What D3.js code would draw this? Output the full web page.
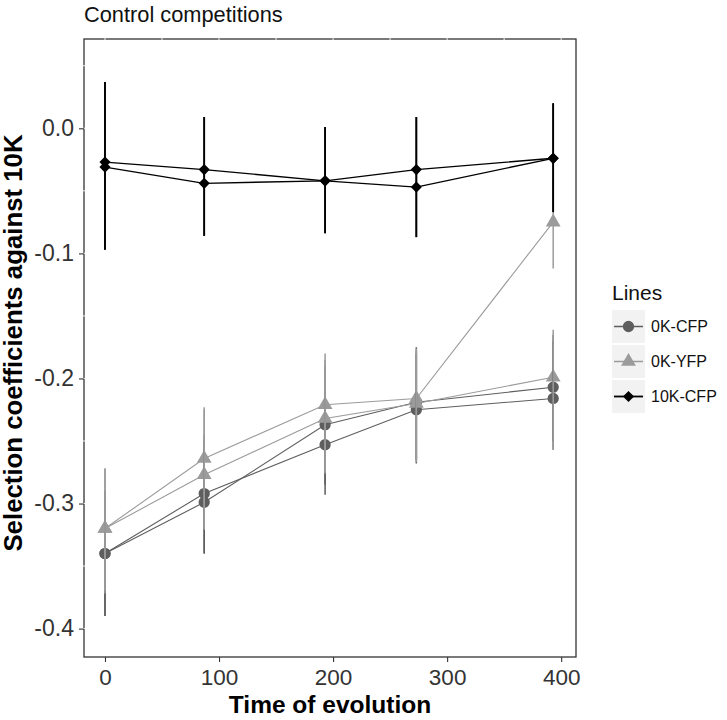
<!DOCTYPE html>
<html>
<head>
<meta charset="utf-8">
<script src="https://cdn.jsdelivr.net/npm/d3@7"></script>
<style>
  body { margin: 0; background: #fff; }
  svg { display: block; font-family: "Liberation Sans", Arial, sans-serif; }
</style>
</head>
<body>
<svg id="chart" width="727" height="720"></svg>
<script>
// ---------------- data ----------------
const times = [0, 87, 193, 273, 393];
const groups = ["0K-CFP", "0K-YFP", "10K-CFP"];
const xTicks = [0, 100, 200, 300, 400];
const yTicks = [0.0, -0.1, -0.2, -0.3, -0.4];

// two replicate lines per group
const cfpA   = [-0.340, -0.292, -0.253, -0.225, -0.216];
const cfpB   = [-0.340, -0.299, -0.237, -0.219, -0.207];
const yfpA   = [-0.320, -0.264, -0.221, -0.216, -0.075];
const yfpB   = [-0.320, -0.277, -0.232, -0.220, -0.199];
const k10A   = [-0.027, -0.033, -0.042, -0.033, -0.024];
const k10B   = [-0.031, -0.044, -0.042, -0.047, -0.024];

// error bar limits per line
const cfpA_lo = [-0.390, -0.340, -0.293, -0.268, -0.257];
const cfpA_hi = [-0.290, -0.245, -0.210, -0.180, -0.170];
const cfpB_lo = [-0.390, -0.340, -0.285, -0.265, -0.250];
const cfpB_hi = [-0.290, -0.250, -0.190, -0.175, -0.165];
const yfpA_lo = [-0.372, -0.321, -0.276, -0.267, -0.112];
const yfpA_hi = [-0.272, -0.223, -0.180, -0.176, -0.040];
const yfpB_lo = [-0.370, -0.320, -0.275, -0.265, -0.257];
const yfpB_hi = [-0.272, -0.225, -0.185, -0.178, -0.161];
const k10_lo  = [-0.097, -0.086, -0.084, -0.087, -0.067];
const k10_hi  = [ 0.037,  0.009,  0.001,  0.009,  0.020];

const seriesList = [
  { group: "0K-CFP",  vals: cfpA, lo: cfpA_lo, hi: cfpA_hi },
  { group: "0K-CFP",  vals: cfpB, lo: cfpB_lo, hi: cfpB_hi },
  { group: "0K-YFP",  vals: yfpA, lo: yfpA_lo, hi: yfpA_hi },
  { group: "0K-YFP",  vals: yfpB, lo: yfpB_lo, hi: yfpB_hi },
  { group: "10K-CFP", vals: k10A, lo: k10_lo,  hi: k10_hi },
  { group: "10K-CFP", vals: k10B, lo: k10_lo,  hi: k10_hi }
];

// ---------------- styles ----------------
const colors = { "0K-CFP": "#5e5e5e", "0K-YFP": "#9b9b9b", "10K-CFP": "#000000" };
const lineW  = { "0K-CFP": 1.1, "0K-YFP": 1.1, "10K-CFP": 1.4 };
const barW   = { "0K-CFP": 1.5, "0K-YFP": 1.5, "10K-CFP": 1.7 };

function markerPath(group) {
  if (group === "0K-CFP") return d3.symbol(d3.symbolCircle, 100)();
  if (group === "0K-YFP") return d3.symbol(d3.symbolTriangle, 95)();
  return d3.symbol(d3.symbolSquare, 62)();
}
function markerRot(group) { return group === "10K-CFP" ? 45 : 0; }

// ---------------- layout ----------------
const svg = d3.select("#chart");
const P = { left: 84, right: 576, top: 39, bottom: 657 };

const x = d3.scaleLinear().domain([-18.4, 413]).range([P.left, P.right]);
const y = d3.scaleLinear().domain([-0.4227, 0.0714]).range([P.bottom, P.top]);

// panel background
svg.append("rect").attr("x", P.left).attr("y", P.top)
  .attr("width", P.right - P.left).attr("height", P.bottom - P.top)
  .attr("fill", "#fff");

// lines
const lineGen = d3.line().x((d, i) => x(times[i])).y(d => y(d));
const gLines = svg.append("g");
seriesList.forEach(s => {
  gLines.append("path").attr("d", lineGen(s.vals))
    .attr("fill", "none").attr("stroke", colors[s.group])
    .attr("stroke-width", lineW[s.group]);
});

// points
const gPts = svg.append("g");
seriesList.forEach(s => {
  gPts.selectAll(null).data(s.vals).enter().append("path")
    .attr("d", markerPath(s.group))
    .attr("transform", (d, i) => `translate(${x(times[i])},${y(d)}) rotate(${markerRot(s.group)})`)
    .attr("fill", colors[s.group]);
});

// error bars
const gErr = svg.append("g");
seriesList.forEach(s => {
  gErr.selectAll(null).data(s.vals).enter().append("line")
    .attr("x1", (d, i) => x(times[i])).attr("x2", (d, i) => x(times[i]))
    .attr("y1", (d, i) => y(s.hi[i])).attr("y2", (d, i) => y(s.lo[i]))
    .attr("stroke", colors[s.group]).attr("stroke-width", barW[s.group]);
});

// panel border
svg.append("rect").attr("x", P.left).attr("y", P.top)
  .attr("width", P.right - P.left).attr("height", P.bottom - P.top)
  .attr("fill", "none").attr("stroke", "#333").attr("stroke-width", 1.3);

// small white gaps on top & left border (grid positions)
const gGap = svg.append("g");
d3.range(0, 401, 50).forEach(v => {
  gGap.append("line").attr("x1", x(v)).attr("x2", x(v))
    .attr("y1", P.top - 1.5).attr("y2", P.top + 1.5)
    .attr("stroke", "#fff").attr("stroke-width", 0.9);
});
d3.range(-0.4, 0.051, 0.05).forEach(v => {
  gGap.append("line").attr("x1", P.left - 1.5).attr("x2", P.left + 1.5)
    .attr("y1", y(v)).attr("y2", y(v))
    .attr("stroke", "#fff").attr("stroke-width", 0.9);
});

// axes
const xAxis = d3.axisBottom(x).tickValues(xTicks).tickSize(5).tickPadding(7)
  .tickFormat(d3.format("d"));
const gx = svg.append("g").attr("transform", `translate(0,${P.bottom})`).call(xAxis);
gx.select(".domain").remove();
gx.selectAll(".tick line").attr("stroke", "#333").attr("stroke-width", 1.1);
gx.selectAll(".tick text").attr("fill", "#333").style("font-size", "22.5px")
  .style("font-family", "'Liberation Sans', Arial, sans-serif");

const yAxis = d3.axisLeft(y).tickValues(yTicks).tickSize(5).tickPadding(5)
  .tickFormat(d3.format(".1f"));
const gy = svg.append("g").attr("transform", `translate(${P.left},0)`).call(yAxis);
gy.select(".domain").remove();
gy.selectAll(".tick line").attr("stroke", "#333").attr("stroke-width", 1.1);
gy.selectAll(".tick text").attr("fill", "#333").style("font-size", "23px")
  .style("font-family", "'Liberation Sans', Arial, sans-serif")
  .text(d => d3.format(".1f")(d).replace("−", "-"));

// titles
svg.append("text").attr("x", 84).attr("y", 22)
  .style("font-size", "21.8px").attr("fill", "#111")
  .text("Control competitions");

svg.append("text").attr("x", (P.left + P.right) / 2).attr("y", 713)
  .attr("text-anchor", "middle").style("font-size", "24.5px").style("font-weight", "bold")
  .text("Time of evolution");

svg.append("text")
  .attr("transform", `translate(22,${(P.top + P.bottom) / 2 - 5}) rotate(-90)`)
  .attr("text-anchor", "middle").style("font-size", "25.8px").style("font-weight", "bold")
  .text("Selection coefficients against 10K");

// legend
const lg = svg.append("g").attr("transform", "translate(612,0)");
lg.append("text").attr("x", 0).attr("y", 300).style("font-size", "21px").attr("fill", "#111")
  .text("Lines");
groups.forEach((g, i) => {
  const y0 = 310 + i * 35;
  lg.append("rect").attr("x", 0).attr("y", y0).attr("width", 33).attr("height", 33)
    .attr("fill", "#f2f2f2");
  lg.append("line").attr("x1", 2).attr("x2", 31).attr("y1", y0 + 16.5).attr("y2", y0 + 16.5)
    .attr("stroke", colors[g]).attr("stroke-width", lineW[g] + 0.4);
  lg.append("path").attr("d", markerPath(g))
    .attr("transform", `translate(16.5,${y0 + 16.5}) rotate(${markerRot(g)})`)
    .attr("fill", colors[g]);
  lg.append("text").attr("x", 39).attr("y", y0 + 22).style("font-size", "16px").attr("fill", "#111")
    .text(g);
});
</script>
</body>
</html>
